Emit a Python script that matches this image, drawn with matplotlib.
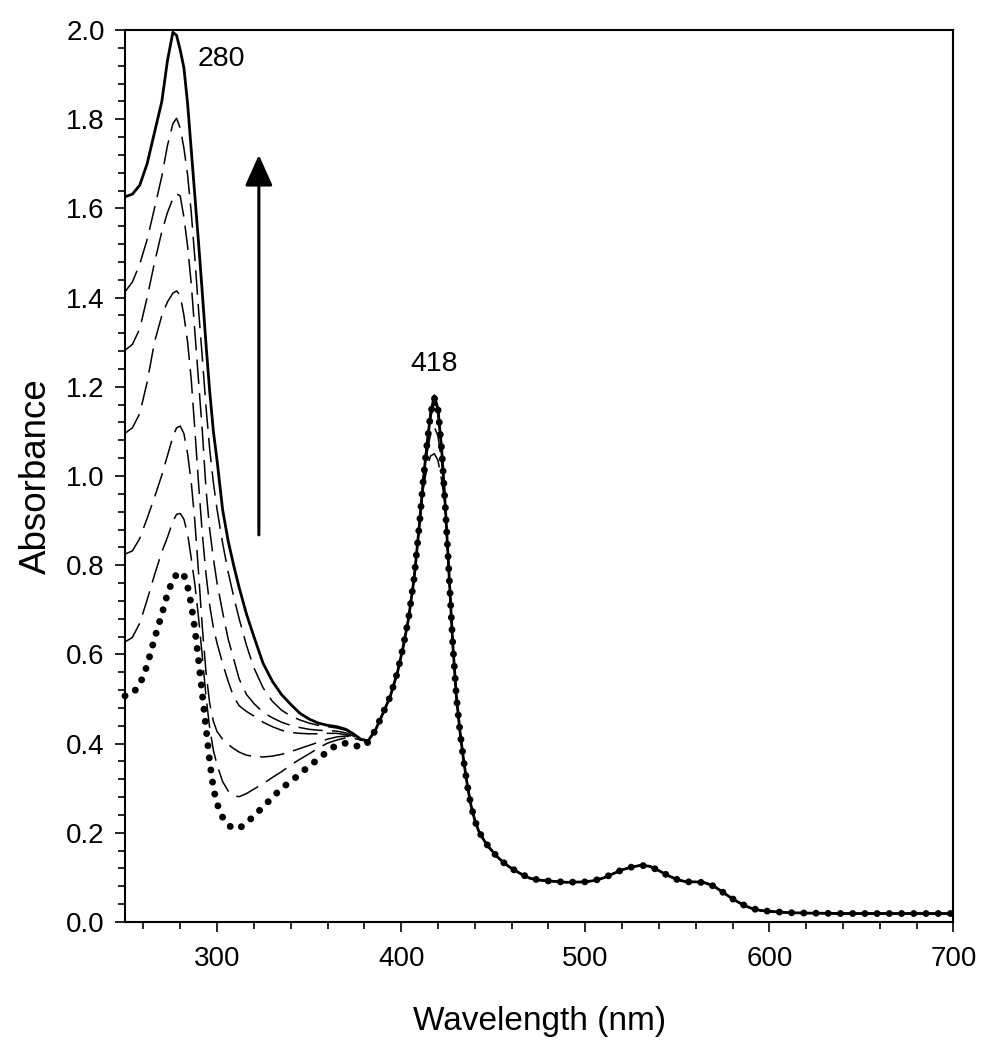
import matplotlib
matplotlib.use("Agg")
import matplotlib.pyplot as plt
from matplotlib.ticker import MultipleLocator, FormatStrFormatter

plt.rcParams['font.family'] = ['Liberation Sans', 'DejaVu Sans']

# ---------------- data ----------------
# UV region (per spectrum)
wl_uv = [250, 254, 258, 262, 266, 270, 273, 276, 278, 280, 282, 284, 286, 288, 290,
         292, 294, 296, 298, 300, 303, 306, 309, 312, 316, 320, 325, 330, 335, 340,
         345, 350, 355, 360, 365, 370, 374, 378, 382]

uv_initial = [0.507, 0.512, 0.532, 0.575, 0.635, 0.690, 0.735, 0.768, 0.779, 0.785, 0.778, 0.752, 0.712, 0.655, 0.585,
              0.510, 0.435, 0.360, 0.300, 0.265, 0.235, 0.217, 0.210, 0.210, 0.222, 0.238, 0.258, 0.279, 0.300, 0.315,
              0.332, 0.350, 0.365, 0.383, 0.397, 0.401, 0.397, 0.392, 0.403]
uv_t1 = [0.628, 0.638, 0.670, 0.722, 0.778, 0.830, 0.862, 0.898, 0.914, 0.916, 0.903, 0.870, 0.815, 0.755, 0.680,
         0.595, 0.505, 0.435, 0.385, 0.352, 0.315, 0.294, 0.283, 0.281, 0.288, 0.298, 0.310, 0.324, 0.337, 0.352,
         0.365, 0.377, 0.390, 0.401, 0.408, 0.413, 0.412, 0.408, 0.406]
uv_t2 = [0.825, 0.832, 0.860, 0.905, 0.952, 1.002, 1.045, 1.088, 1.108, 1.112, 1.095, 1.050, 0.985, 0.895, 0.780,
         0.660, 0.560, 0.490, 0.450, 0.427, 0.410, 0.398, 0.389, 0.381, 0.374, 0.371, 0.370, 0.372, 0.376, 0.382,
         0.389, 0.396, 0.403, 0.410, 0.415, 0.417, 0.414, 0.409, 0.406]
uv_t3 = [1.096, 1.108, 1.140, 1.210, 1.300, 1.360, 1.390, 1.410, 1.415, 1.405, 1.360, 1.300, 1.215, 1.100, 0.980,
         0.870, 0.780, 0.710, 0.660, 0.625, 0.580, 0.540, 0.505, 0.485, 0.472, 0.462, 0.448, 0.438, 0.430, 0.425,
         0.423, 0.422, 0.422, 0.423, 0.423, 0.420, 0.415, 0.408, 0.406]
uv_t4 = [1.282, 1.295, 1.330, 1.400, 1.478, 1.548, 1.590, 1.622, 1.633, 1.628, 1.580, 1.515, 1.430, 1.320, 1.210,
         1.100, 0.970, 0.880, 0.815, 0.760, 0.695, 0.635, 0.590, 0.545, 0.510, 0.490, 0.470, 0.458, 0.448, 0.441,
         0.436, 0.432, 0.430, 0.429, 0.428, 0.424, 0.417, 0.409, 0.406]
uv_t5 = [1.413, 1.435, 1.475, 1.530, 1.600, 1.672, 1.740, 1.790, 1.802, 1.780, 1.735, 1.675, 1.590, 1.485, 1.370,
         1.265, 1.155, 1.060, 0.985, 0.925, 0.850, 0.785, 0.730, 0.680, 0.620, 0.570, 0.525, 0.495, 0.475, 0.462,
         0.453, 0.446, 0.441, 0.438, 0.435, 0.430, 0.420, 0.410, 0.406]
uv_final = [1.626, 1.632, 1.652, 1.700, 1.770, 1.840, 1.930, 1.995, 1.988, 1.955, 1.915, 1.835, 1.730, 1.625, 1.520,
            1.410, 1.295, 1.190, 1.100, 1.035, 0.925, 0.855, 0.800, 0.750, 0.690, 0.640, 0.580, 0.540, 0.510, 0.488,
            0.468, 0.455, 0.446, 0.441, 0.438, 0.432, 0.422, 0.410, 0.406]

# Soret blue flank (shared)
wl_blue = [386, 390, 394, 398, 401, 404, 407, 410]
abs_blue = [0.430, 0.467, 0.505, 0.560, 0.615, 0.680, 0.770, 0.895]

# Soret top (per spectrum)
wl_soret = [412, 414, 416, 418, 420, 422]
soret_initial = [0.99, 1.07, 1.14, 1.175, 1.15, 1.06]
soret_t1 = [0.97, 1.02, 1.045, 1.05, 1.035, 0.99]
soret_t2 = [0.98, 1.05, 1.095, 1.11, 1.09, 1.03]
soret_t3 = [0.99, 1.07, 1.13, 1.165, 1.14, 1.055]
soret_t4 = [0.99, 1.07, 1.14, 1.175, 1.15, 1.06]
soret_t5 = [0.99, 1.07, 1.14, 1.18, 1.15, 1.06]
soret_final = [0.99, 1.07, 1.14, 1.18, 1.15, 1.06]

# red flank + Q bands (shared)
wl_red = [424, 426, 428, 430, 432, 434, 436, 438, 440, 442, 445, 448, 452, 456, 460,
          465, 470, 475, 480, 490, 500, 505, 510, 515, 520, 525, 530, 535, 540, 545,
          550, 555, 560, 565, 570, 575, 580, 585, 590, 595, 600, 610, 620, 640, 660,
          680, 700]
abs_red = [0.930, 0.780, 0.625, 0.505, 0.425, 0.360, 0.305, 0.260, 0.228, 0.205, 0.183, 0.166, 0.147, 0.132, 0.120,
           0.108, 0.098, 0.094, 0.092, 0.089, 0.090, 0.093, 0.099, 0.108, 0.117, 0.123, 0.127, 0.125, 0.115, 0.104,
           0.095, 0.090, 0.090, 0.088, 0.080, 0.066, 0.052, 0.040, 0.031, 0.026, 0.024, 0.021, 0.020, 0.019, 0.019,
           0.019, 0.019]

x_ticks = [300, 400, 500, 600, 700]
y_ticks = [0.0, 0.2, 0.4, 0.6, 0.8, 1.0, 1.2, 1.4, 1.6, 1.8, 2.0]


def spectrum(uv, soret):
    wl = wl_uv + wl_blue + wl_soret + wl_red
    ab = uv + abs_blue + soret + abs_red
    return wl, ab


# ---------------- figure ----------------
fig = plt.figure(figsize=(9.89, 10.5), dpi=100)
ax = fig.add_axes([0.1264, 0.1219, 0.8377, 0.8495])

dash_style = (0, (16, 6))
for uv, so in [(uv_t1, soret_t1), (uv_t2, soret_t2), (uv_t3, soret_t3),
               (uv_t4, soret_t4), (uv_t5, soret_t5)]:
    w, a = spectrum(uv, so)
    ax.plot(w, a, color='black', lw=1.1, linestyle=dash_style, zorder=3)

w, a = spectrum(uv_final, soret_final)
ax.plot(w, a, color='black', lw=2.0, linestyle='-', zorder=4,
        solid_joinstyle='round')

w, a = spectrum(uv_initial, soret_initial)
ax.plot(w, a, color='black', lw=5.0, linestyle=(0, (0.01, 1.75)),
        dash_capstyle='round', zorder=5, clip_on=False)

ax.set_xlim(250, 700)
ax.set_ylim(0, 2.0)
ax.set_xticks(x_ticks)
ax.set_yticks(y_ticks)
ax.xaxis.set_minor_locator(MultipleLocator(20))
ax.yaxis.set_minor_locator(MultipleLocator(0.04))
ax.yaxis.set_major_formatter(FormatStrFormatter('%.1f'))

ax.tick_params(axis='both', which='major', direction='out', length=7.5, width=1.2,
               labelsize=20, top=False, right=False)
ax.tick_params(axis='x', which='major', pad=10)
ax.tick_params(axis='y', which='major', pad=7)
ax.tick_params(axis='both', which='minor', direction='out', length=5, width=1.2,
               top=False, right=False)
for s in ax.spines.values():
    s.set_linewidth(1.5)

ax.set_xlabel('Wavelength (nm)', fontsize=24, labelpad=24)
ax.set_ylabel('Absorbance', fontsize=26.5, labelpad=9)

ax.text(302.5, 1.935, '280', fontsize=20.5, ha='center', va='center')
ax.text(418, 1.252, '418', fontsize=20.5, ha='center', va='center')

ax.annotate('', xy=(322.7, 1.72), xytext=(322.7, 0.868),
            arrowprops=dict(arrowstyle='-|>,head_length=19,head_width=8.5',
                            mutation_scale=1, lw=2.2, color='black',
                            shrinkA=0, shrinkB=0))

fig.savefig('out.png', dpi=100)
